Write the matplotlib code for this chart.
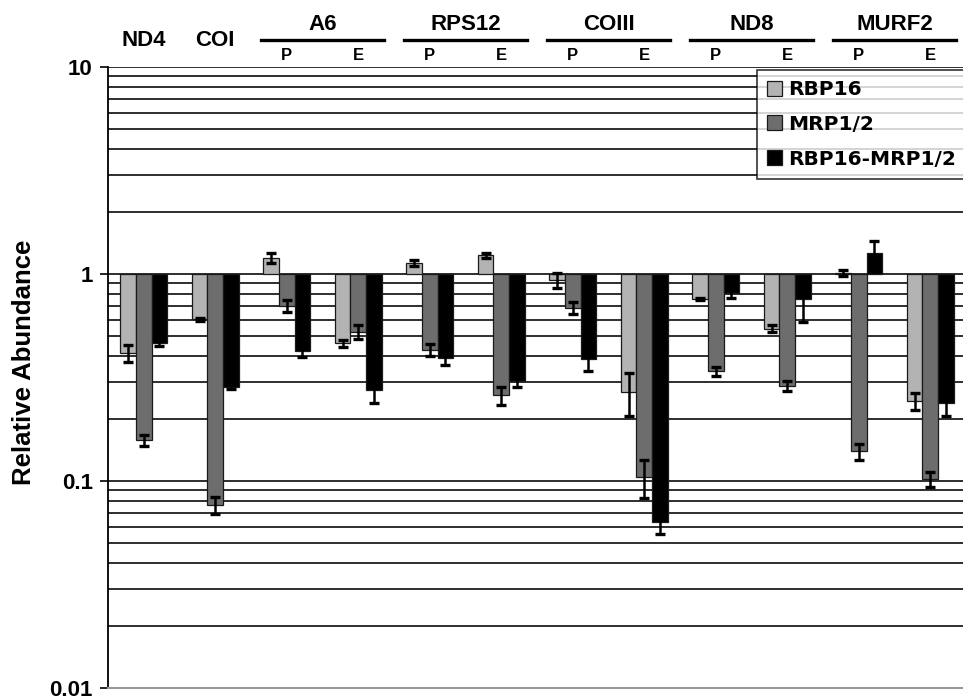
import numpy as np
import matplotlib
matplotlib.use("Agg")
import matplotlib.pyplot as plt
from matplotlib.ticker import FixedLocator, FixedFormatter, LogLocator, NullFormatter

plt.rcParams['font.family'] = ['Liberation Sans', 'DejaVu Sans']
plt.rcParams['font.weight'] = 'bold'

# categories (x order)
genes_single = ["ND4", "COI"]
genes_paired = ["A6", "RPS12", "COIII", "ND8", "MURF2"]
sub_labels = ["P", "E"]
series = ["RBP16", "MRP1/2", "RBP16-MRP1/2"]

# values: ND4, COI, A6 P, A6 E, RPS12 P, RPS12 E, COIII P, COIII E, ND8 P, ND8 E, MURF2 P, MURF2 E
rbp16 = [0.415, 0.604, 1.20, 0.462, 1.13, 1.23, 0.936, 0.269, 0.760, 0.544, 1.01, 0.243]
mrp12 = [0.157, 0.0766, 0.701, 0.526, 0.430, 0.259, 0.685, 0.105, 0.339, 0.288, 0.139, 0.102]
rbp16_mrp12 = [0.462, 0.285, 0.426, 0.275, 0.393, 0.305, 0.390, 0.0634, 0.813, 0.755, 1.27, 0.237]

rbp16_err = [0.038, 0.010, 0.07, 0.02, 0.04, 0.04, 0.08, 0.062, 0.008, 0.02, 0.03, 0.022]
mrp12_err = [0.010, 0.007, 0.046, 0.04, 0.03, 0.027, 0.045, 0.022, 0.018, 0.017, 0.012, 0.008]
rbp16_mrp12_err = [0.012, 0.008, 0.03, 0.038, 0.03, 0.02, 0.05, 0.008, 0.05, 0.17, 0.17, 0.032]

ytick_vals = [0.01, 0.1, 1, 10]
ytick_labels = ["0.01", "0.1", "1", "10"]

colors = ["#b3b3b3", "#6d6d6d", "#000000"]

W, H = 963, 696
fig = plt.figure(figsize=(W / 100, H / 100), dpi=100)
ax = fig.add_axes([108 / W, 1 - 688 / H, 858 / W, 621 / H])

n = len(rbp16)
x = np.arange(n)
bw = 0.22
offsets = [-bw, 0, bw]
data = [rbp16, mrp12, rbp16_mrp12]
errs = [rbp16_err, mrp12_err, rbp16_mrp12_err]
handles = []
for i in range(3):
    v = np.array(data[i])
    h = ax.bar(x + offsets[i], v - 1, bottom=1, width=bw, color=colors[i],
               edgecolor="#1a1a1a", linewidth=0.9, label=series[i], zorder=3,
               yerr=errs[i], capsize=3.8,
               error_kw=dict(ecolor="black", elinewidth=1.8, capthick=2.4, zorder=4))
    handles.append(h)

ax.set_yscale("log")
ax.set_ylim(0.01, 10)
ax.set_xlim(-0.5, n - 0.5)

ax.yaxis.set_major_locator(FixedLocator(ytick_vals))
ax.yaxis.set_major_formatter(FixedFormatter(ytick_labels))
ax.yaxis.set_minor_locator(LogLocator(base=10, subs=np.arange(2, 10)))
ax.yaxis.set_minor_formatter(NullFormatter())
ax.tick_params(axis="y", which="major", length=6, width=1.2, direction="out",
               labelsize=16, pad=5)
ax.tick_params(axis="y", which="minor", length=0)
ax.set_xticks([])
ax.yaxis.grid(True, which="both", color="#2e2e2e", linewidth=1.4)
ax.set_axisbelow(True)
for lab in ax.get_yticklabels():
    lab.set_fontweight("heavy")

ax.spines["top"].set_visible(False)
ax.spines["right"].set_visible(False)
ax.spines["left"].set_linewidth(1.3)
ax.spines["bottom"].set_color("#999999")
ax.spines["bottom"].set_linewidth(1.5)

fig.text(24 / W, 1 - 362 / H, "Relative Abundance", rotation=90, ha="center",
         va="center", fontsize=18.5, fontweight="bold")

leg = ax.legend(handles=handles, loc="upper left",
                bbox_to_anchor=(0.756, 0.995 - 0.3, 0.3, 0.3), mode="expand",
                prop=dict(family=["DejaVu Sans"], weight="bold", size=14.5),
                frameon=True, fancybox=False, edgecolor="black",
                handlelength=0.75, handleheight=0.75, handletextpad=0.3,
                labelspacing=0.78, borderaxespad=0, borderpad=0.5)
leg.get_frame().set_linewidth(1.2)
leg.set_zorder(6)

# header labels
trans = ax.get_xaxis_transform()
def fy(py):
    return 1 + (67 - py) / 621.0  # axes fraction for pixel y

for i, g in enumerate(genes_single):
    ax.text(x[i], fy(41), g, transform=trans, ha="center", va="center",
            fontsize=16, fontweight="bold", clip_on=False)
for j, g in enumerate(genes_paired):
    p = 2 + 2 * j
    mid = p + 0.5
    ax.text(mid, fy(24), g, transform=trans, ha="center", va="center",
            fontsize=16, fontweight="bold", clip_on=False)
    ax.plot([mid - 0.86, mid + 0.86], [fy(40), fy(40)], transform=trans,
            color="black", linewidth=2.4, clip_on=False)
    for k, s in enumerate(sub_labels):
        ax.text(p + k, fy(56), s, transform=trans, ha="center", va="center",
                fontsize=12, fontweight="bold", clip_on=False)

fig.savefig("out.png", dpi=100)
